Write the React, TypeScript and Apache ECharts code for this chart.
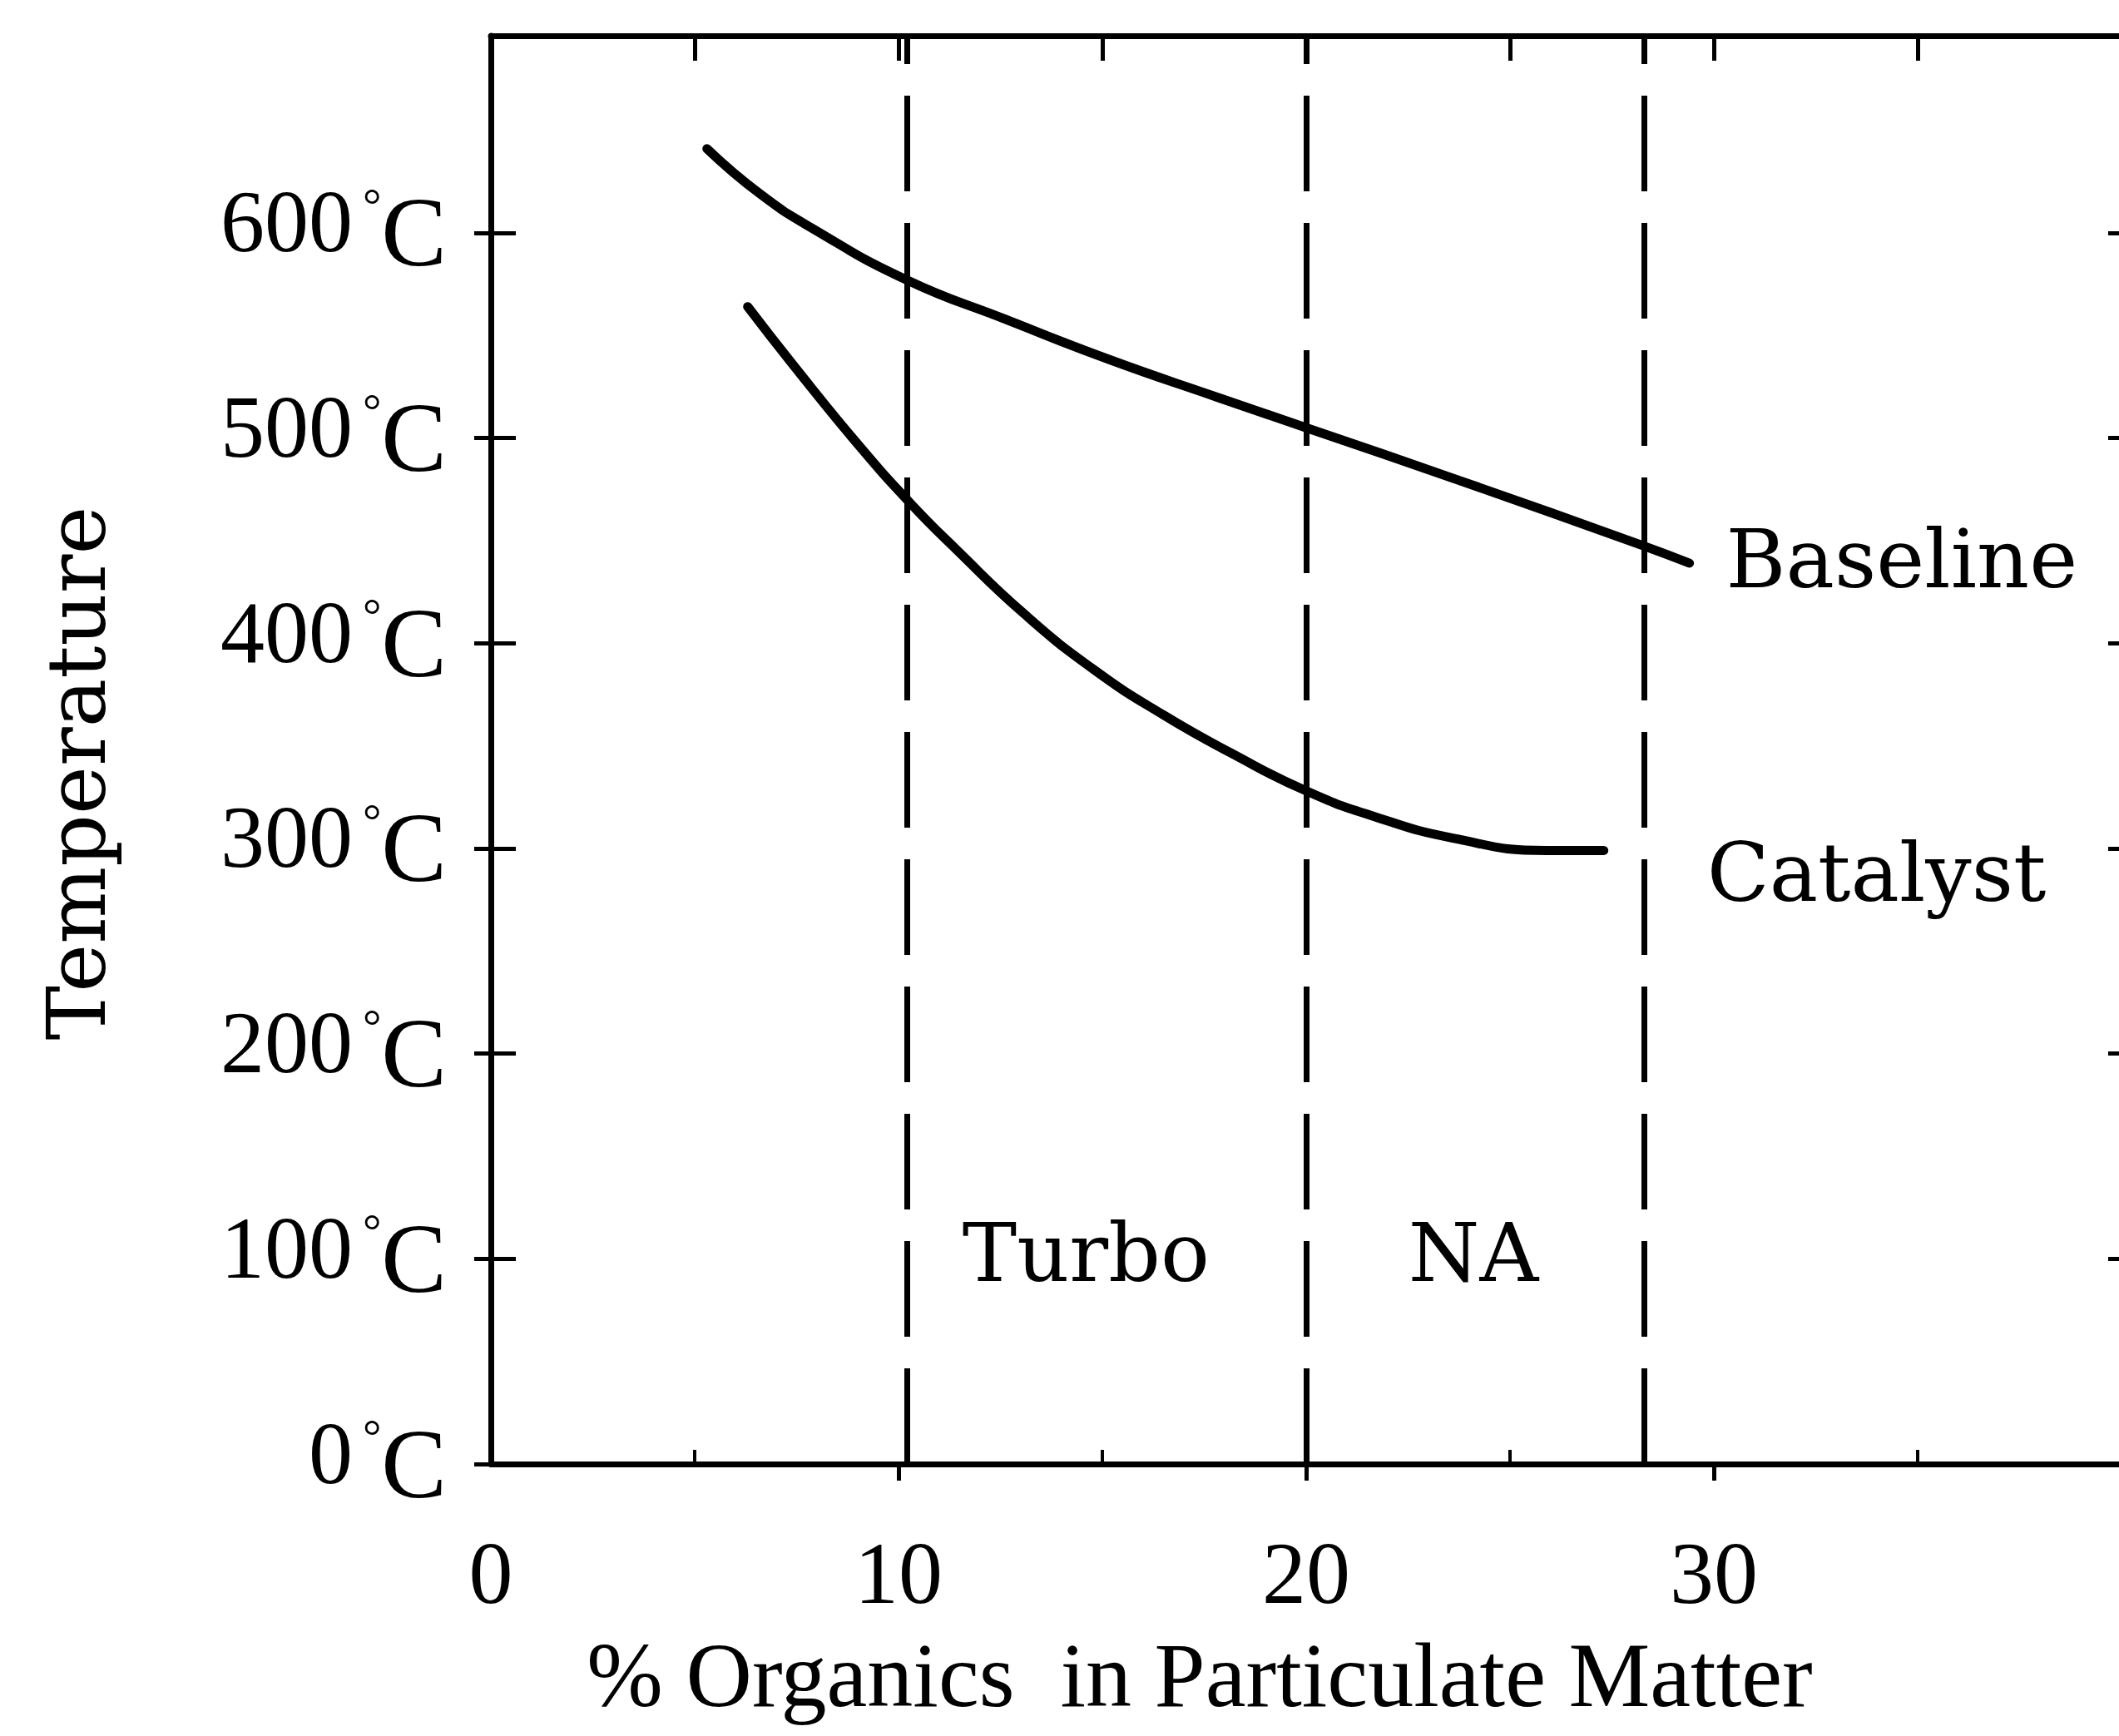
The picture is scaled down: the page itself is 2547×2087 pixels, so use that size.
import React, { useEffect, useRef } from 'react';
import * as echarts from 'echarts';

// ---- Data ----
const baselineX = [5.3, 6.6, 7.9, 10.2, 12.6, 15.2, 17.8, 20.0, 23.8, 28.2, 29.4];
const baselineY = [641, 619, 602, 577, 558, 538, 520, 505, 479, 448, 439];
const catalystX = [6.3, 7.4, 9.0, 10.3, 11.4, 13.1, 14.8, 16.5, 18.2, 20.0, 21.6, 23.6, 25.9, 27.3];
const catalystY = [564, 536, 497, 468, 446, 414, 387, 365, 346, 328, 316, 305, 299, 299];
const boundaryX = [10.2, 20.0, 28.3];
const regionNames = ['Turbo', 'NA'];
const regionX = [14.6, 24.1];
const regionY = [103, 103];
const xTickLabels = [0, 10, 20, 30];
const xMajorTicks = [10, 20, 30];
const xMinorTicks = [5, 15, 25, 35];
const topTicks = [5, 10, 15, 20, 25, 30, 35];
const yTickLabels = [0, 100, 200, 300, 400, 500, 600];
const yInnerTicks = [100, 200, 300, 400, 500, 600];

const BLACK = '#000';
const SERIF = 'Liberation Serif';
const SLAB = 'DejaVu Serif';

const tickLabelRich = {
  n: { fontFamily: SERIF, fontSize: 106, color: BLACK, padding: [0, 0, 26, 0] },
  d: { fontFamily: SERIF, fontSize: 56, color: BLACK, padding: [0, 0, 66, 12] },
  c: { fontFamily: SERIF, fontSize: 118, color: BLACK },
};

function buildOption(): any {
  const xCommon = { type: 'value', min: 0, max: 40, interval: 10, splitLine: { show: false } };
  const yCommon = { type: 'value', min: 0, max: 696, interval: 100, splitLine: { show: false } };
  return {
    animation: false,
    backgroundColor: '#fff',
    grid: {
      left: 590,
      right: -3,
      top: 43,
      bottom: 327,
      containLabel: false,
      outerBoundsMode: 'none',
    },
    xAxis: [
      {
        ...xCommon,
        position: 'bottom',
        axisLine: { show: true, onZero: false, lineStyle: { color: BLACK, width: 7 } },
        axisTick: {
          show: true,
          inside: false,
          length: 20,
          customValues: xMajorTicks,
          lineStyle: { color: BLACK, width: 5 },
        },
        axisLabel: {
          show: true,
          margin: 78,
          customValues: xTickLabels,
          formatter: (v: number) => (xTickLabels.includes(v) ? String(v) : ''),
          fontFamily: SERIF,
          fontSize: 106,
          color: BLACK,
        },
        name: '% Organics  in Particulate Matter',
        nameLocation: 'middle',
        nameGap: 199,
        nameTextStyle: { fontFamily: SERIF, fontSize: 110, color: BLACK, padding: [0, 256, 0, 0] },
      },
      {
        ...xCommon,
        position: 'bottom',
        axisLine: { show: false, onZero: false },
        axisTick: {
          show: true,
          inside: true,
          length: 17,
          customValues: xMinorTicks,
          lineStyle: { color: BLACK, width: 4 },
        },
        axisLabel: { show: false },
      },
      {
        ...xCommon,
        position: 'top',
        axisLine: { show: true, onZero: false, lineStyle: { color: BLACK, width: 7 } },
        axisTick: {
          show: true,
          inside: true,
          length: 30,
          customValues: topTicks,
          lineStyle: { color: BLACK, width: 5 },
        },
        axisLabel: { show: false },
      },
    ],
    yAxis: [
      {
        ...yCommon,
        position: 'left',
        axisLine: { show: true, onZero: false, lineStyle: { color: BLACK, width: 7 } },
        axisTick: {
          show: true,
          inside: false,
          length: 20,
          customValues: yTickLabels,
          lineStyle: { color: BLACK, width: 5 },
        },
        axisLabel: {
          show: true,
          margin: 53,
          customValues: yTickLabels,
          formatter: (v: number) => (yTickLabels.includes(v) ? `{n|${v}}{d|°}{c|C}` : ''),
          rich: tickLabelRich,
        },
        name: 'Temperature',
        nameLocation: 'middle',
        nameGap: 449,
        nameTextStyle: { fontFamily: SLAB, fontSize: 98, color: BLACK, padding: [0, 56, 0, 0] },
      },
      {
        ...yCommon,
        position: 'left',
        axisLine: { show: false, onZero: false },
        axisTick: {
          show: true,
          inside: true,
          length: 30,
          customValues: yInnerTicks,
          lineStyle: { color: BLACK, width: 5 },
        },
        axisLabel: { show: false },
      },
      {
        ...yCommon,
        position: 'right',
        axisLine: { show: true, onZero: false, lineStyle: { color: BLACK, width: 7 } },
        axisTick: {
          show: true,
          inside: true,
          length: 16,
          customValues: yInnerTicks,
          lineStyle: { color: BLACK, width: 5 },
        },
        axisLabel: { show: false },
      },
    ],
    series: [
      {
        type: 'line',
        name: 'Baseline',
        data: baselineX.map((x, i) => [x, baselineY[i]]),
        smooth: 0.5,
        symbol: 'none',
        showSymbol: false,
        lineStyle: { color: BLACK, width: 11, cap: 'round' },
        endLabel: {
          show: true,
          formatter: 'Baseline',
          fontFamily: SLAB,
          fontSize: 98,
          color: BLACK,
          distance: 44,
          offset: [0, -5],
        },
        markLine: {
          silent: true,
          symbol: ['none', 'none'],
          label: { show: false },
          lineStyle: { color: BLACK, width: 7, type: [115, 38] },
          data: boundaryX.map((x) => ({ xAxis: x })),
        },
      },
      {
        type: 'line',
        name: 'Catalyst',
        data: catalystX.map((x, i) => [x, catalystY[i]]),
        smooth: 0.5,
        symbol: 'none',
        showSymbol: false,
        lineStyle: { color: BLACK, width: 11, cap: 'round' },
        endLabel: {
          show: true,
          formatter: 'Catalyst',
          fontFamily: SLAB,
          fontSize: 98,
          color: BLACK,
          distance: 124,
          offset: [0, 27],
        },
      },
      {
        type: 'scatter',
        name: 'Engine type',
        silent: true,
        symbolSize: 0,
        itemStyle: { color: BLACK, opacity: 1 },
        data: regionX.map((x, i) => ({ name: regionNames[i], value: [x, regionY[i]] })),
        label: {
          show: true,
          position: 'inside',
          formatter: '{b}',
          fontFamily: SLAB,
          fontSize: 98,
          color: BLACK,
          opacity: 1,
          textBorderWidth: 0,
        },
      },
    ],
  };
}

export default function App() {
  const ref = useRef<HTMLDivElement>(null);
  useEffect(() => {
    if (!ref.current) return;
    const chart = echarts.init(ref.current, null, { renderer: 'svg' });
    chart.setOption(buildOption());
    return () => chart.dispose();
  }, []);
  return (
    <div
      ref={ref}
      style={{ position: 'absolute', left: 0, top: 0, width: 2547, height: 2087, background: '#fff' }}
    />
  );
}
